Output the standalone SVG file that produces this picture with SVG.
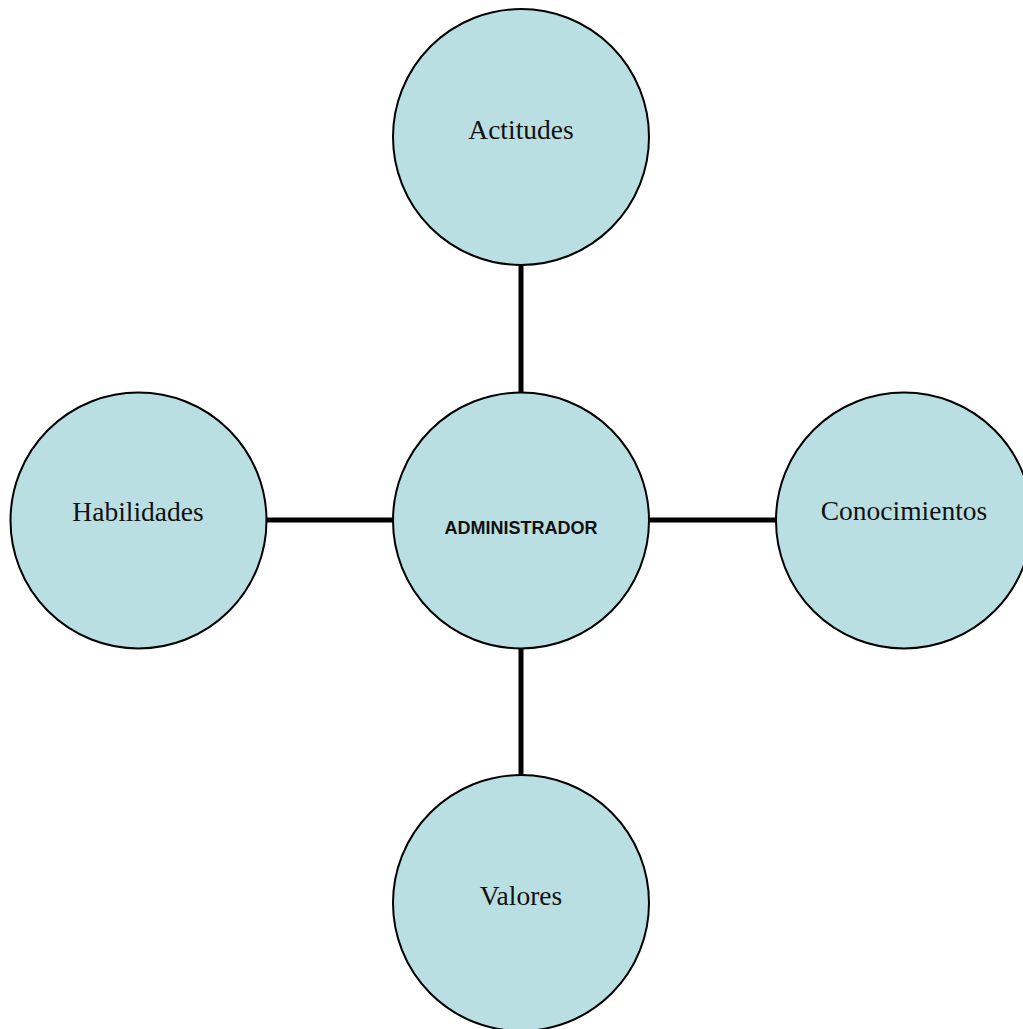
<svg xmlns="http://www.w3.org/2000/svg" width="1023" height="1029" viewBox="0 0 1023 1029">
  <style>
    .node { fill: #BADFE3; stroke: #000; stroke-width: 2; }
    .link { stroke: #000; stroke-width: 5; fill: none; }
    .lbl { font-family: "Liberation Serif", "Times New Roman", serif; font-size: 27.5px; fill: #111; text-anchor: middle; }
    .core { font-family: "Liberation Sans", Arial, sans-serif; font-size: 18px; font-weight: bold; fill: #111; text-anchor: middle; }
  </style>
  <rect width="1023" height="1029" fill="#fff"/>
  <g id="connectors">
    <line class="link" x1="521" y1="265" x2="521" y2="393"/>
    <line class="link" x1="521" y1="648" x2="521" y2="775"/>
    <line class="link" x1="267" y1="520" x2="393" y2="520"/>
    <line class="link" x1="649" y1="520" x2="776" y2="520"/>
  </g>
  <g id="actitudes">
    <circle class="node" cx="521" cy="137" r="128"/>
    <text class="lbl" x="521" y="139">Actitudes</text>
  </g>
  <g id="habilidades">
    <circle class="node" cx="138.5" cy="520.5" r="128"/>
    <text class="lbl" x="138" y="521">Habilidades</text>
  </g>
  <g id="conocimientos">
    <circle class="node" cx="904" cy="520.5" r="128"/>
    <text class="lbl" x="904" y="520">Conocimientos</text>
  </g>
  <g id="valores">
    <circle class="node" cx="521" cy="903" r="128"/>
    <text class="lbl" x="521" y="905">Valores</text>
  </g>
  <g id="administrador">
    <circle class="node" cx="521" cy="520.5" r="128"/>
    <text class="core" x="521" y="534">ADMINISTRADOR</text>
  </g>
</svg>
